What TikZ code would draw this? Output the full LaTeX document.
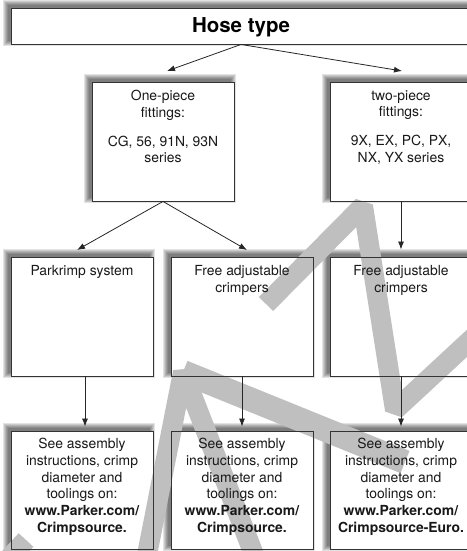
\documentclass[tikz,border=0pt]{standalone}
\usepackage{fontspec}
\setmainfont{TeX Gyre Heros}
\usetikzlibrary{arrows.meta,calc}
\pgfdeclarelayer{boxfill}
\pgfdeclarelayer{wm}
\pgfsetlayers{boxfill,wm,main}
\tikzset{
  box/.style={draw=black!80, line width=0.9pt, minimum width=142pt, minimum height=119pt, inner sep=0pt},
  txt/.style={anchor=north, inner sep=0pt, align=center, font=\fontsize{13.9}{16.7}\selectfont, text=black!90},
  arr/.style={line width=0.8pt, draw=black!85, -{Latex[length=8pt,width=6pt]}},
  band/.style={line width=20pt, draw=black!25, line join=bevel},
}
\begin{document}
\begin{tikzpicture}[x=1pt,y=-1pt]
\useasboundingbox (0,0) rectangle (466,551);
% boxes
\node[box, minimum width=460pt, minimum height=36pt] (hose) at (241,26) {};
\node[box] (one) at (163,141.5) {};
\node[box] (two) at (401,141.5) {};
\node[box] (park) at (82,316.5) {};
\node[box] (free1) at (242,316.5) {};
\node[box] (free2) at (401,316.5) {};
\node[box, minimum height=118pt] (see1) at (82,490) {};
\node[box, minimum height=118pt] (see2) at (242,490) {};
\node[box, minimum height=118pt] (see3) at (401,490) {};
% shadows and fills
\begin{pgfonlayer}{boxfill}
\foreach \n in {hose,one,two,park,free1,free2,see1,see2,see3}{
  \foreach \r in {5,4,3,2,1,0}{
    \fill[black, opacity=0.11] ($(\n.north west)+(-3-\r,-3-\r)$) rectangle ($(\n.south east)+(-3+\r,-3+\r)$);
  }
  \fill[white] (\n.north west) rectangle (\n.south east);
}
\end{pgfonlayer}
% watermark
\begin{pgfonlayer}{wm}
\draw[band] (266,304) -- (363,206) -- (395,410) -- (490,322);
\draw[band] (145,565) -- (183,372) -- (258,565);
\draw[band, line width=24pt] (183,372) -- (405,462);
\draw[band] (2,566) -- (26,540);
\end{pgfonlayer}
% texts
\node[anchor=base, inner sep=0pt, font=\fontsize{20.5}{24}\selectfont\bfseries] (hoset) at (241,32.5) {Hose type};
\node[txt] (onet) at ($(one.north)+(0,8.5)$) {One-piece\\fittings:\\[12pt]CG, 56, 91N, 93N\\series};
\node[txt] (twot) at ($(two.north)+(0,8.5)$) {two-piece\\fittings:\\[12pt]9X, EX, PC, PX,\\NX, YX series};
\node[txt] (parkt) at ($(park.north)+(0,8.5)$) {Parkrimp system};
\node[txt] (free1t) at ($(free1.north)+(0,8.5)$) {Free adjustable\\crimpers};
\node[txt] (free2t) at ($(free2.north)+(0,8.5)$) {Free adjustable\\crimpers};
\node[txt] (see1t) at ($(see1.north)+(0,7.5)$) {See assembly\\instructions, crimp\\diameter and\\toolings on:\\\textbf{www.Parker.com/}\\\textbf{Crimpsource.}};
\node[txt] (see2t) at ($(see2.north)+(0,7.5)$) {See assembly\\instructions, crimp\\diameter and\\toolings on:\\\textbf{www.Parker.com/}\\\textbf{Crimpsource.}};
\node[txt] (see3t) at ($(see3.north)+(0,7.5)$) {See assembly\\instructions, crimp\\diameter and\\toolings on:\\\textbf{www.Parker.com/}\\\textbf{Crimpsource-Euro.}};
% connectors
\coordinate (t1) at (167,71);
\coordinate (t2) at (402,71);
\coordinate (t3) at (77,250);
\coordinate (t4) at (247,250);
\draw[arr] (hose.south) -- (t1);
\draw[arr] (hose.south) -- (t2);
\draw[arr] (one.south) -- (t3);
\draw[arr] (one.south) -- (t4);
\draw[arr, shorten >=7pt] (two.south) -- (free2.north);
\draw[arr, shorten >=4pt] ([xshift=3pt]park.south) -- ([xshift=3pt]see1.north);
\draw[arr, shorten >=4pt] (free1.south) -- (free1.south |- see2.north);
\draw[arr, shorten >=4pt] (free2.south) -- (see3.north);
\end{tikzpicture}
\end{document}
